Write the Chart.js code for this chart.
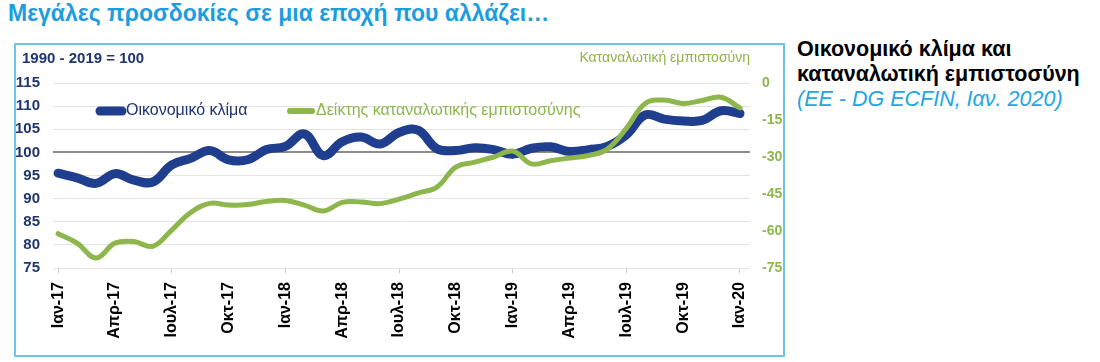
<!DOCTYPE html>
<html>
<head>
<meta charset="utf-8">
<script src="https://cdn.jsdelivr.net/npm/chart.js@4.4.1/dist/chart.umd.min.js"></script>
<style>
    body { margin: 0; background: #fff; font-family: "Liberation Sans", Arial, sans-serif; }
    #title { position: absolute; left: 8px; top: 0px; font-size: 23px; font-weight: bold; color: #1b9de0; white-space: nowrap; }
    #frame { position: absolute; left: 14px; top: 43px; width: 771px; height: 314px; border: 2px solid #6cc5ea; box-sizing: border-box; }
    #wrap { position: absolute; left: 16px; top: 45px; width: 768px; height: 311px; }
    #unit { position: absolute; left: 22px; top: 49px; font-size: 15px; font-weight: bold; color: #1f3470; white-space: nowrap; }
    #rtitle { position: absolute; right: 350px; top: 49px; font-size: 14px; color: #8db54b; white-space: nowrap; }
    #side { position: absolute; left: 797px; top: 37px; font-size: 21.5px; line-height: 25px; white-space: nowrap; }
    #side b { color: #000; }
    #side i { color: #22a6e4; font-size: 21.5px; }
</style>
</head>
<body>
<div id="title">Μεγάλες προσδοκίες σε μια εποχή που αλλάζει…</div>
<div id="frame"></div>
<div id="wrap"><canvas id="chart"></canvas></div>
<div id="unit">1990 - 2019 = 100</div>
<div id="rtitle">Καταναλωτική εμπιστοσύνη</div>
<div id="side"><b>Οικονομικό κλίμα και</b><br><b>καταναλωτική εμπιστοσύνη</b><br><i>(ΕΕ - DG ECFIN, Ιαν. 2020)</i></div>

<script>
const months = [
    "Ιαν-17", "Φεβ-17", "Μαρ-17", "Απρ-17", "Μαϊ-17", "Ιουν-17", "Ιουλ-17", "Αυγ-17", "Σεπ-17", "Οκτ-17", "Νοε-17", "Δεκ-17",
    "Ιαν-18", "Φεβ-18", "Μαρ-18", "Απρ-18", "Μαϊ-18", "Ιουν-18", "Ιουλ-18", "Αυγ-18", "Σεπ-18", "Οκτ-18", "Νοε-18", "Δεκ-18",
    "Ιαν-19", "Φεβ-19", "Μαρ-19", "Απρ-19", "Μαϊ-19", "Ιουν-19", "Ιουλ-19", "Αυγ-19", "Σεπ-19", "Οκτ-19", "Νοε-19", "Δεκ-19",
    "Ιαν-20"
];

// Οικονομικό κλίμα (αριστερός άξονας)
const esi = [95.5, 94.5, 93.3, 95.4, 94.0, 93.6, 97.3, 98.7, 100.4, 98.4, 98.4, 100.6,
    101.3, 104.0, 99.3, 102.3, 103.3, 101.8, 104.3, 104.8, 100.8, 100.4, 101.0, 100.6,
    99.6, 100.9, 101.2, 100.2, 100.6, 101.3, 103.8, 108.1, 107.2, 106.8, 106.9, 109.0,
    108.4];

// Δείκτης καταναλωτικής εμπιστοσύνης (δεξιός άξονας)
const cci = [-61.1, -64.9, -70.9, -64.9, -64.3, -66.2, -59.6, -52.5, -48.8, -49.5, -49.3, -48.0,
    -47.6, -49.5, -51.9, -48.4, -48.2, -48.9, -47.1, -44.6, -42.2, -34.1, -32.1, -30.0,
    -27.6, -32.8, -31.5, -30.4, -29.4, -26.8, -18.4, -8.3, -6.9, -8.3, -7.1, -5.8,
    -10.1];

const leftTicks = [75, 80, 85, 90, 95, 100, 105, 110, 115];
const rightTicks = [-75, -60, -45, -30, -15, 0];

const BLUE = "#203e8e";
const GREEN = "#8db74c";
const FONT = "'Liberation Sans', Arial, sans-serif";

// legend drawn inside the plot like the original
const innerLegend = {
    id: "innerLegend",
    afterDraw(chart) {
        const ctx = chart.ctx;
        const a = chart.chartArea;
        const y = a.top + 28;
        const items = [
            { ds: chart.data.datasets[0], x: a.left + 47, w: 9 },
            { ds: chart.data.datasets[1], x: a.left + 237, w: 6 }
        ];
        ctx.save();
        ctx.font = "16px " + FONT;
        ctx.textBaseline = "middle";
        items.forEach(it => {
            ctx.strokeStyle = it.ds.borderColor;
            ctx.lineWidth = it.w;
            ctx.lineCap = "round";
            ctx.beginPath();
            ctx.moveTo(it.x, y);
            ctx.lineTo(it.x + 22, y);
            ctx.stroke();
            ctx.fillStyle = it.ds.labelColor;
            ctx.fillText(it.ds.label, it.x + 26, y);
        });
        ctx.restore();
    }
};

new Chart(document.getElementById("chart"), {
    type: "line",
    data: {
        datasets: [{
            label: "Οικονομικό κλίμα",
            data: esi.map((v, i) => ({ x: i, y: v })),
            yAxisID: "y",
            borderColor: BLUE,
            labelColor: "#1f3470",
            borderWidth: 9,
            order: 2
        }, {
            label: "Δείκτης καταναλωτικής εμπιστοσύνης",
            data: cci.map((v, i) => ({ x: i, y: v })),
            yAxisID: "y1",
            borderColor: GREEN,
            labelColor: GREEN,
            borderWidth: 5,
            order: 1
        }]
    },
    options: {
        responsive: true,
        maintainAspectRatio: false,
        animation: false,
        layout: { padding: { top: 38, left: 0, right: 0, bottom: 0 } },
        elements: {
            point: { radius: 0 },
            line: { tension: 0.4, borderCapStyle: "round", borderJoinStyle: "round" }
        },
        plugins: { legend: { display: false }, tooltip: { enabled: false } },
        scales: {
            x: {
                type: "linear",
                min: -0.27,
                max: 36.53,
                afterBuildTicks: s => { s.ticks = months.map((m, i) => ({ value: i })).filter(t => t.value % 3 === 0); },
                afterFit: s => { s.height = 88; },
                border: { display: false },
                grid: {
                    drawOnChartArea: false,
                    tickLength: 5,
                    color: c => (c.tick && c.tick.value % 6 === 0) ? "#c8c8c8" : "rgba(0,0,0,0)"
                },
                ticks: {
                    autoSkip: false,
                    minRotation: 90,
                    maxRotation: 90,
                    padding: 9,
                    color: "#000",
                    font: { family: FONT, size: 16, weight: "bold" },
                    callback: v => months[v]
                }
            },
            y: {
                position: "left",
                min: 75,
                max: 115,
                afterBuildTicks: s => { s.ticks = leftTicks.map(v => ({ value: v })); },
                afterFit: s => { s.width = 37; },
                border: { display: false },
                grid: {
                    drawTicks: false,
                    color: c => c.tick.value === 100 ? "#8c8c8c" : "#e3e3e3",
                    lineWidth: c => c.tick.value === 100 ? 2 : 1
                },
                ticks: {
                    padding: 13,
                    color: "#1f3470",
                    font: { family: FONT, size: 15, weight: "bold" }
                }
            },
            y1: {
                position: "right",
                min: -75,
                max: 0,
                afterBuildTicks: s => { s.ticks = rightTicks.map(v => ({ value: v })); },
                afterFit: s => { s.width = 34; },
                border: { display: false },
                grid: { display: false, drawTicks: false },
                ticks: {
                    padding: 12,
                    color: GREEN,
                    font: { family: FONT, size: 14, weight: "bold" }
                }
            }
        }
    },
    plugins: [innerLegend]
});
</script>
</body>
</html>
